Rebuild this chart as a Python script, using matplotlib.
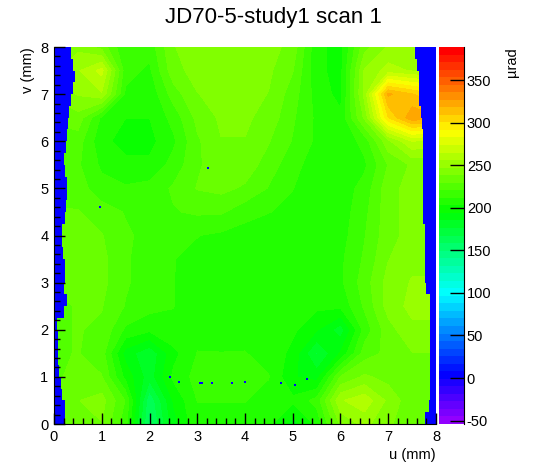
import colorsys
import numpy as np
import matplotlib
matplotlib.use("Agg")
import matplotlib.pyplot as plt
from matplotlib.colors import ListedColormap, BoundaryNorm

plt.rcParams['font.family'] = ['Liberation Sans', 'DejaVu Sans']

# ---------------- data ----------------
title = "JD70-5-study1 scan 1"
x_label = "u (mm)"
y_label = "v (mm)"
z_label = "\u00b5rad"

z_min, z_max = -54.0, 389.0
z_ticks = [-50, 0, 50, 100, 150, 200, 250, 300, 350]
u_ticks = [0, 1, 2, 3, 4, 5, 6, 7, 8]
v_ticks = [0, 1, 2, 3, 4, 5, 6, 7, 8]

u_grid = [0, 0.5, 1, 1.5, 2, 2.5, 3, 3.5, 4, 4.5, 5, 5.5, 6, 6.5, 7, 7.5, 8]
v_grid_top_down = [8, 7.5, 7, 6.5, 6, 5.5, 5, 4.5, 4, 3.5, 3, 2.5, 2, 1.5, 1, 0.5, 0]

# deflection (µrad), rows from v=8 (top) down to v=0
z_rows = [
    [240, 245, 235, 212, 215, 238, 242, 245, 245, 242, 235, 205, 200, 235, 248, 250, 250],
    [245, 255, 268, 215, 210, 235, 242, 245, 245, 240, 230, 205, 200, 248, 260, 255, 255],
    [240, 248, 255, 210, 205, 225, 238, 242, 242, 238, 225, 208, 200, 250, 320, 310, 300],
    [230, 235, 210, 203, 203, 215, 232, 240, 240, 235, 222, 210, 205, 240, 300, 325, 320],
    [228, 225, 205, 200, 200, 210, 228, 238, 238, 230, 220, 210, 205, 215, 245, 265, 260],
    [228, 222, 210, 205, 205, 215, 228, 235, 235, 225, 215, 207, 205, 210, 230, 240, 240],
    [228, 225, 215, 213, 215, 222, 230, 232, 228, 220, 212, 207, 207, 215, 235, 242, 242],
    [230, 230, 225, 220, 218, 220, 222, 222, 215, 212, 210, 207, 207, 218, 235, 242, 242],
    [230, 232, 230, 222, 218, 215, 212, 210, 208, 208, 208, 207, 208, 220, 235, 242, 242],
    [230, 232, 232, 222, 215, 212, 210, 207, 207, 207, 208, 207, 210, 222, 238, 245, 245],
    [230, 232, 232, 222, 215, 212, 207, 205, 207, 210, 210, 207, 210, 225, 242, 248, 248],
    [228, 230, 230, 220, 215, 212, 207, 205, 208, 210, 210, 205, 205, 222, 242, 250, 250],
    [228, 230, 228, 210, 205, 210, 210, 208, 210, 210, 205, 195, 180, 215, 235, 245, 245],
    [228, 230, 225, 190, 178, 200, 212, 212, 212, 210, 200, 175, 195, 225, 232, 238, 238],
    [228, 232, 230, 200, 180, 205, 215, 215, 215, 212, 195, 190, 230, 240, 235, 232, 232],
    [230, 238, 242, 220, 160, 195, 212, 212, 212, 210, 205, 215, 255, 262, 245, 232, 232],
    [230, 235, 238, 215, 155, 190, 210, 210, 210, 205, 190, 205, 240, 250, 240, 232, 232],
]

# unmeasured border (value ~0): edges per v
edge_v = [0, 0.25, 0.5, 0.75, 1, 1.25, 1.5, 1.75, 2, 2.25, 2.5, 2.75, 3, 3.25, 3.5,
          3.75, 4, 4.25, 4.5, 4.75, 5, 5.25, 5.5, 5.75, 6, 6.25, 6.5, 6.75, 7, 7.25,
          7.5, 7.75, 8]
left_edge_u = [0.22, 0.22, 0.17, 0.15, 0.10, 0.09, 0.09, 0.08, 0.06, 0.20, 0.27, 0.21,
               0.24, 0.24, 0.18, 0.17, 0.17, 0.22, 0.26, 0.28, 0.27, 0.22, 0.21, 0.26,
               0.28, 0.29, 0.31, 0.36, 0.40, 0.43, 0.40, 0.35, 0.35]
right_edge_u = [7.78, 7.85, 7.87, 7.87, 7.87, 7.87, 7.87, 7.87, 7.87, 7.87, 7.87, 7.80,
                7.76, 7.76, 7.76, 7.76, 7.76, 7.72, 7.72, 7.72, 7.72, 7.72, 7.72, 7.72,
                7.72, 7.70, 7.68, 7.65, 7.65, 7.65, 7.60, 7.57, 7.56]
edge_value = 0.0

dead_u = [3.22, 2.42, 2.62, 3.05, 3.10, 3.30, 3.72, 4.0, 4.75, 0.97, 5.05, 5.3]
dead_v = [5.43, 1.0, 0.9, 0.86, 0.88, 0.88, 0.88, 0.89, 0.88, 4.6, 0.82, 0.95]

# ---------------- ROOT "pretty" palette (50 colours violet->red) ----------------
pal = []
for i in range(49):
    hue = 280.0 - (i + 1) * (280.0 / 50)
    pal.append(colorsys.hls_to_rgb(hue / 360.0, 0.5, 1.0))
pal.append((1.0, 0.0, 0.0))
cmap = ListedColormap(pal)
levels = np.linspace(z_min, z_max, 51)
norm = BoundaryNorm(levels, 50)

# ---------------- figure ----------------
fig = plt.figure(figsize=(5.46, 4.72), dpi=100)
W, H = 546.0, 472.0
ax = fig.add_axes([54 / W, 48 / H, 382 / W, 377 / H])
cax = fig.add_axes([439 / W, 48 / H, 25 / W, 377 / H])

U, V = np.meshgrid(np.array(u_grid), np.array(v_grid_top_down[::-1]))
Z = np.flipud(np.array(z_rows, dtype=float))
ax.contourf(U, V, Z, levels=levels, cmap=cmap, norm=norm, antialiased=False)

blue = cmap(norm(edge_value))
ax.fill_betweenx(edge_v, 0, left_edge_u, step='post', color=blue, lw=0, antialiased=False)
ax.fill_betweenx(edge_v, right_edge_u, 8, step='post', color=blue, lw=0, antialiased=False)
ax.scatter(dead_u, dead_v, marker='s', s=3, color=blue, lw=0)

ax.set_xlim(0, 8)
ax.set_ylim(0, 8)
ax.set_xticks(u_ticks)
ax.set_yticks(v_ticks)
ax.set_xticks(np.arange(0, 8.01, 0.2), minor=True)
ax.set_yticks(np.arange(0, 8.01, 0.2), minor=True)
ax.set_axisbelow(False)
for s in ['top', 'right']:
    ax.spines[s].set_visible(False)
ax.tick_params(which='major', direction='in', length=8, width=1, labelsize=10.5, pad=4)
ax.tick_params(which='minor', direction='in', length=4, width=1)
ax.set_xlabel(x_label, loc='right', fontsize=10.5, labelpad=3)
ax.set_ylabel(y_label, loc='top', fontsize=10.5, labelpad=4)

fig.text(0.5, 1 - 17 / H, title, ha='center', va='center', fontsize=16)

# colour bar
mids = 0.5 * (levels[:-1] + levels[1:])
cax.pcolormesh([0, 1], levels, mids.reshape(-1, 1), cmap=cmap, norm=norm)
cax.set_xlim(0, 1)
cax.set_ylim(z_min, z_max)
cax.set_xticks([])
cax.yaxis.tick_right()
cax.set_yticks(z_ticks)
cax.set_yticklabels([str(t) for t in z_ticks])
for s in ['top', 'left', 'bottom']:
    cax.spines[s].set_visible(False)
cax.tick_params(axis='y', direction='in', length=10, width=1, labelsize=10.5, pad=2)
fig.text(512 / W, 1 - 47 / H, z_label, rotation=90, ha='center', va='top', fontsize=10.5)

fig.savefig("out.png", dpi=100)
